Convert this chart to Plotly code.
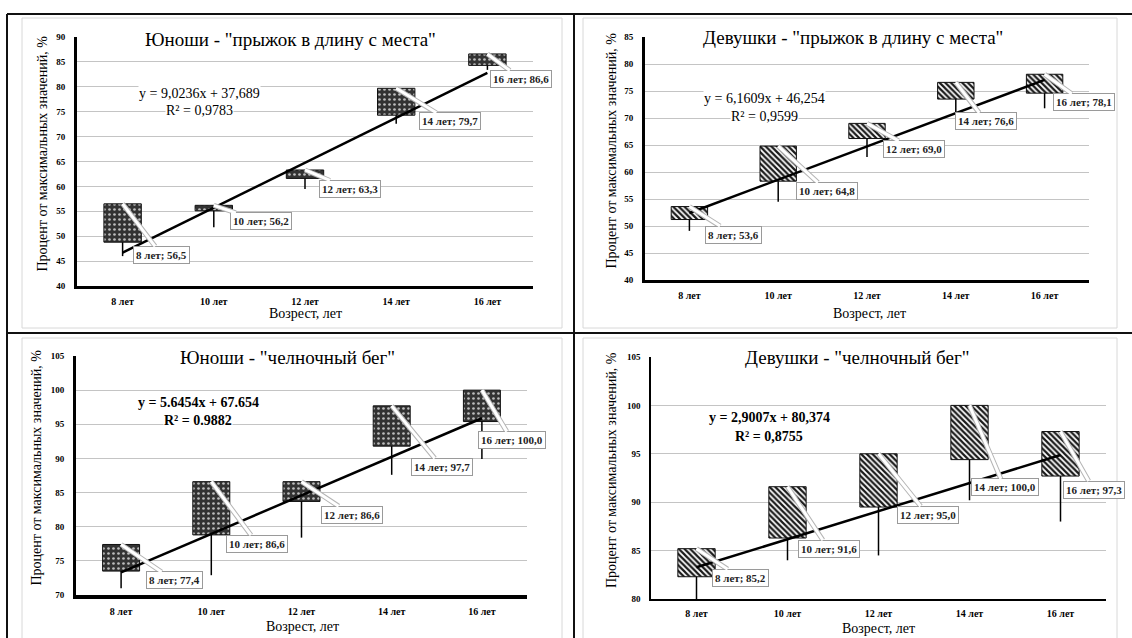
import plotly.graph_objects as go

W, H = 1132, 638

# ---------------- data ----------------
ages = ["8 лет", "10 лет", "12 лет", "14 лет", "16 лет"]
age_pos = [1, 2, 3, 4, 5]

titles = ['Юноши - "прыжок в длину с места"', 'Девушки - "прыжок в длину с места"',
          'Юноши - "челночный бег"', 'Девушки - "челночный бег"']

# panel 1: boys, standing long jump
p1_open = [48.8, 55.1, 61.6, 74.3, 84.3]
p1_close = [56.5, 56.2, 63.3, 79.7, 86.6]
p1_low = [46.0, 51.8, 59.5, 72.6, 83.4]
p1_labels = ["56,5", "56,2", "63,3", "79,7", "86,6"]
# panel 2: girls, standing long jump
p2_open = [51.2, 58.3, 66.2, 73.5, 74.6]
p2_close = [53.6, 64.8, 69.0, 76.6, 78.1]
p2_low = [49.1, 54.5, 62.8, 70.9, 71.8]
p2_labels = ["53,6", "64,8", "69,0", "76,6", "78,1"]
# panel 3: boys, shuttle run
p3_open = [73.5, 78.8, 83.7, 91.8, 95.4]
p3_close = [77.4, 86.6, 86.6, 97.7, 100.0]
p3_low = [71.0, 72.9, 78.4, 87.6, 89.9]
p3_labels = ["77,4", "86,6", "86,6", "97,7", "100,0"]
# panel 4: girls, shuttle run
p4_open = [82.3, 86.3, 89.5, 94.4, 92.7]
p4_close = [85.2, 91.6, 95.0, 100.0, 97.3]
p4_low = [80.0, 84.0, 84.5, 90.2, 88.0]
p4_labels = ["85,2", "91,6", "95,0", "100,0", "97,3"]

trend_slope = [9.0236, 6.1609, 5.6454, 2.9007]
trend_icept = [37.689, 46.254, 67.654, 80.374]
eq_text = ["y = 9,0236x + 37,689", "y = 6,1609x + 46,254",
           "y = 5.6454x + 67.654", "y = 2,9007x + 80,374"]
r2_text = ["R² = 0,9783", "R² = 0,9599", "R² = 0.9882", "R² = 0,8755"]

y_ranges = [(40, 90), (40, 85), (70, 105), (80, 105)]

# ---------------- layout config (pixels) ----------------
SERIF = "Liberation Serif"
plot_px = [  # x0, x1, ytop, ybottom
    (77, 533, 37, 286),
    (645, 1089, 37, 280),
    (76, 527, 356, 595),
    (651, 1106, 357, 599),
]
label_off = [
    [(39, 51), (47, 16), (45, 19), (54, 33), (34, 25)],
    [(44, 28), (49, 45), (47, 26), (30, 39), (39, 28)],
    [(53, 36), (46, 62), (50, 33), (50, 61), (30, 50)],
    [(44, 29), (41, 62), (49, 61), (35, 82), (33, 58)],
]
title_px = [(290, 39), (853, 38), (287, 357), (857, 357)]
eq_px = [(199, 93, 110), (764, 99, 116), (198, 402, 421), (769, 417, 436)]
xtitle_px = [(305, 313), (869, 313), (302, 626), (878, 628)]
ytitle_x = [42, 611, 36, 611]
axis_w = [(3, 3), (3, 3), (3, 3.5), (1.5, 2)]
eq_bold = [False, False, True, True]

panels = [
    (p1_open, p1_close, p1_low, p1_labels, "boy"),
    (p2_open, p2_close, p2_low, p2_labels, "girl"),
    (p3_open, p3_close, p3_low, p3_labels, "boy"),
    (p4_open, p4_close, p4_low, p4_labels, "girl"),
]


def fx(px):
    return px / W


def fy(py):
    return 1 - py / H


fig = go.Figure()
annotations = []
shapes = []

for i, (op, cl, lo, labs, kind) in enumerate(panels):
    n = "" if i == 0 else str(i + 1)
    xa, ya = "x" + n, "y" + n
    x0, x1, yt, yb = plot_px[i]

    if kind == "boy":
        pattern = dict(shape=".", bgcolor="#333333", fgcolor="#bdbdbd", size=5, solidity=0.22)
    else:
        pattern = dict(shape="\\", bgcolor="#ffffff", fgcolor="#1a1a1a", size=4, solidity=0.55)

    fig.add_trace(go.Bar(
        x=age_pos, base=op, y=[c - o for c, o in zip(cl, op)], width=0.41,
        marker=dict(color="#333333" if kind == "boy" else "white", pattern=pattern,
                    line=dict(color="#111111", width=1)),
        xaxis=xa, yaxis=ya, showlegend=False, hoverinfo="skip"))

    wx, wy = [], []
    for p, o, l in zip(age_pos, op, lo):
        wx += [p, p, None]
        wy += [o, l, None]
    fig.add_trace(go.Scatter(x=wx, y=wy, mode="lines", line=dict(color="black", width=1.5),
                             xaxis=xa, yaxis=ya, showlegend=False, hoverinfo="skip"))

    tx = [age_pos[0], age_pos[-1]]
    ty = [trend_slope[i] * v + trend_icept[i] for v in tx]
    fig.add_trace(go.Scatter(x=tx, y=ty, mode="lines", line=dict(color="black", width=2.5),
                             xaxis=xa, yaxis=ya, showlegend=False, hoverinfo="skip"))

    # axes
    lay_x = dict(domain=[fx(x0), fx(x1)], anchor=ya, range=[0.5, 5.5], automargin=False,
                 tickvals=age_pos, ticktext=ages, showgrid=False, zeroline=False,
                 showline=True, linecolor="black", linewidth=axis_w[i][1],
                 tickfont=dict(family=SERIF, size=10, color="black", weight="bold"),
                 ticks="", ticklabelstandoff=4, fixedrange=True)
    lay_y = dict(domain=[fy(yb), fy(yt)], anchor=xa, range=list(y_ranges[i]), dtick=5,
                 automargin=False,
                 showgrid=True, gridcolor="#c4c4c4", gridwidth=1, zeroline=False,
                 showline=True, linecolor="black", linewidth=axis_w[i][0],
                 tickfont=dict(family=SERIF, size=9, color="black", weight="bold"),
                 ticks="", ticklabelstandoff=7, fixedrange=True)
    fig.update_layout(**{"xaxis" + n: lay_x, "yaxis" + n: lay_y})

    # data labels with leader stripes
    for p, c, t, age, (ax, ay) in zip(age_pos, cl, labs, ages, label_off[i]):
        txt = f"{age}; {t}"
        for col, wdt in (("#b5b5b5", 5), ("white", 3)):
            annotations.append(dict(
                x=p, y=c, xref=xa, yref=ya, text=txt, showarrow=True, arrowhead=0,
                arrowcolor=col, arrowwidth=wdt, ax=ax, ay=ay, standoff=0,
                font=dict(family=SERIF, size=11, color="#222222", weight="bold"),
                bgcolor="white", bordercolor="#9a9a9a", borderwidth=1, borderpad=2))

    C = dict(xref="paper", yref="paper", xanchor="center", yanchor="middle", showarrow=False)
    # title
    tx_, ty_ = title_px[i]
    annotations.append(dict(x=fx(tx_), y=fy(ty_), text=titles[i], bgcolor="white", borderpad=2,
                            font=dict(family=SERIF, size=19, color="black"), **C))
    # equation
    ex, e1, e2 = eq_px[i]
    efont = dict(family=SERIF, size=14, color="black", weight="bold" if eq_bold[i] else "normal")
    annotations.append(dict(x=fx(ex), y=fy(e1), text=eq_text[i], bgcolor="white", font=efont,
                            borderpad=0, **C))
    annotations.append(dict(x=fx(ex), y=fy(e2), text=r2_text[i], bgcolor="white", font=efont,
                            borderpad=0, **C))
    # axis titles
    xt, yt_ = xtitle_px[i]
    annotations.append(dict(x=fx(xt), y=fy(yt_), text="Возрест, лет",
                            font=dict(family=SERIF, size=14, color="black"), **C))
    annotations.append(dict(x=fx(ytitle_x[i]), y=fy((yt + yb) / 2 - 8),
                            text="Процент от максимальных значений, %", textangle=-90,
                            font=dict(family=SERIF, size=14, color="black"), **C))

# light chart-area borders
for (a, b, c, d) in [(22, 562, 18, 328), (583, 1117, 18, 328), (22, 562, 338, 640), (583, 1117, 338, 640)]:
    shapes.append(dict(type="rect", xref="paper", yref="paper", x0=fx(a), x1=fx(b), y0=fy(d), y1=fy(c),
                       line=dict(color="#d8d8d8", width=1), layer="below"))
# black frame
for (a, b, c, d) in [(7, 1132, 14, 14), (7, 1132, 333, 333), (7, 7, 14, 638), (574, 574, 14, 638)]:
    shapes.append(dict(type="line", xref="paper", yref="paper", x0=fx(a), x1=fx(b), y0=fy(c), y1=fy(d),
                       line=dict(color="#111111", width=2)))

fig.update_layout(template="none", width=W, height=H,
                  margin=dict(l=0, r=0, t=0, b=0, pad=0, autoexpand=False),
                  paper_bgcolor="white", plot_bgcolor="white", barmode="overlay",
                  annotations=annotations, shapes=shapes, showlegend=False)

fig.write_html("out.html", config={"displayModeBar": False},
               post_script="document.body.style.margin='0';document.body.style.overflow='hidden';")
